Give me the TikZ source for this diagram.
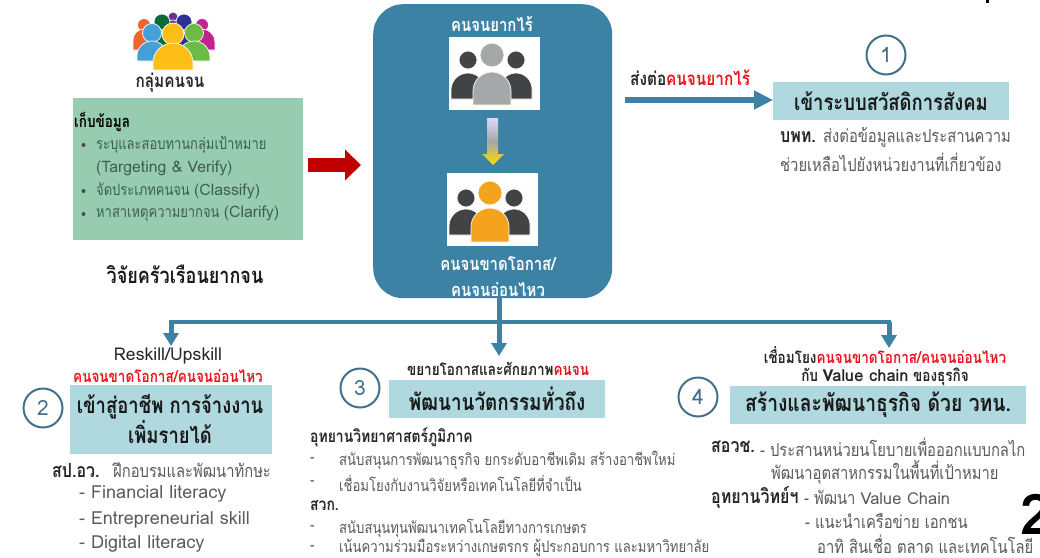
\documentclass[tikz,border=0pt]{standalone}
\usepackage{fontspec}
\setmainfont[Script=Thai,FakeStretch=0.82]{Loma}
\newfontfamily\latinfont{Loma}
\newcommand{\lat}[1]{{\latinfont #1}}
\usepackage{tikz}
\usetikzlibrary{calc,arrows.meta}
\definecolor{tealdeep}{HTML}{3B82A4}
\definecolor{tealpale}{HTML}{AFD8DF}
\definecolor{greenpale}{HTML}{97CCB0}
\definecolor{greentext}{HTML}{3D5F52}
\definecolor{ringblue}{HTML}{446F88}
\definecolor{bodygray}{HTML}{5A5A5A}
\definecolor{darkperson}{HTML}{414345}
\definecolor{midperson}{HTML}{A5A7A8}
\definecolor{orangeperson}{HTML}{F4A31F}
\definecolor{redbold}{HTML}{E8141C}
\definecolor{arrowred}{HTML}{C00000}
\definecolor{grpyellow}{HTML}{FDBE16}
\definecolor{grpblue}{HTML}{45A0D8}
\definecolor{grpgreen}{HTML}{6CBB45}
\definecolor{grporange}{HTML}{F0652F}
\definecolor{grpmagenta}{HTML}{C2248F}
\definecolor{grpnavy}{HTML}{2E3192}
\definecolor{grpforest}{HTML}{0B6B3A}
\definecolor{grppurple}{HTML}{6A2F8F}
% head x, head y, head radius, body top, body half width, body bottom, colour
\newcommand{\personicon}[7]{%
  \filldraw[fill=#7,draw=white,line width=.7pt] (#1,#2) circle [radius=#3];
  \filldraw[fill=#7,draw=white,line width=.7pt] (#1-#5,#6) -- (#1-#5,#4+#5)
    arc [start angle=180,end angle=360,radius=#5] -- (#1+#5,#6) -- cycle;
}
\tikzset{
  bodytext/.style={inner sep=0,anchor=west,text=bodygray,font=\fontsize{18}{21}\selectfont},
  smalltext/.style={inner sep=0,anchor=west,text=bodygray,font=\fontsize{16}{19}\selectfont},
  datatext/.style={inner sep=0,anchor=west,text=greentext,font=\fontsize{15.8}{19}\selectfont},
  boldtext/.style={inner sep=0,anchor=west,text=black!85,font=\fontsize{19.5}{23}\selectfont\bfseries},
  boldsmall/.style={inner sep=0,anchor=west,text=black!85,font=\fontsize{17}{20}\selectfont\bfseries},
  headtext/.style={inner sep=0,text=black!85,font=\fontsize{16.5}{19}\selectfont\bfseries},
  bigtext/.style={inner sep=0,text=black!90,align=center,font=\fontsize{22.5}{30}\selectfont\bfseries},
  whitetext/.style={inner sep=0,text=white,font=\fontsize{18.2}{21}\selectfont\bfseries},
  palebox/.style={fill=tealpale,inner sep=0,anchor=north west},
  ringnode/.style={circle,draw=ringblue,line width=2pt,minimum size=39pt,inner sep=0,
    text=ringblue,font=\latinfont\fontsize{21}{24}\selectfont},
  imagebox/.style={fill=white,inner sep=0,anchor=north west,minimum width=91pt,minimum height=73pt},
  flow/.style={draw=tealdeep,line width=6pt,-{Triangle[length=19pt,width=18pt]}},
  flowdown/.style={draw=tealdeep,line width=5pt,-{Triangle[length=13pt,width=15pt]}},
  trunk/.style={draw=tealdeep,line width=4.5pt,line cap=rect},
}
\begin{document}
\begin{tikzpicture}[x=1pt,y=-1pt]
  \useasboundingbox (0,0) rectangle (1040,557);
  \clip (0,0) rectangle (1040,557);
  %
  % Group icon
  \personicon{144}{25}{6.5}{29}{11}{50}{grporange}
  \personicon{202}{25}{6.5}{29}{13}{50}{grpmagenta}
  \personicon{173}{17}{5}{20}{8}{40}{grppurple}
  \personicon{162}{22}{8}{30}{12}{50}{grpforest}
  \personicon{184}{22}{8}{30}{12}{50}{grpnavy}
  \personicon{152}{33}{9.5}{41}{15}{61}{grpblue}
  \personicon{194}{33}{9.5}{41}{16}{61}{grpgreen}
  \personicon{173}{34}{11}{43}{20}{70}{grpyellow}
  \node[headtext,font=\fontsize{18.7}{22}\selectfont\bfseries] (groupname) at (170,83) {กลุ่มคนจน};
  %
  % Data box
  \node[fill=greenpale,inner sep=0,anchor=north west,minimum width=230pt,minimum height=142pt] (databox) at (73,98) {};
  \node[boldsmall,text=black,font=\fontsize{16.5}{20}\selectfont\bfseries] (datahead) at (74,122) {เก็บข้อมูล};
  \node[datatext] (dataone) at (96,145) {ระบุและสอบทานกลุ่มเป้าหมาย};
  \node[datatext] (datatwo) at (96,168) {\lat{(Targeting \& Verify)}};
  \node[datatext] (datathree) at (96,191) {จัดประเภทคนจน \lat{(Classify)}};
  \node[datatext] (datafour) at (96,214) {หาสาเหตุความยากจน \lat{(Clarify)}};
  \foreach \y in {145,191,214}
    \fill[black!70] (83.5,\y) circle [radius=2];
  \node[bigtext,font=\fontsize{22}{26}\selectfont\bfseries] (research) at (185,274) {วิจัยครัวเรือนยากจน};
  %
  % Poor people panel
  \node[fill=tealdeep,rounded corners=30pt,inner sep=0,anchor=north west,minimum width=239pt,minimum height=294pt] (bigbox) at (373,4) {};
  \node[whitetext] (poorlabel) at (492,24) {คนจนยากไร้};
  \node[imagebox] (topimg) at (449,37) {};
  \node[imagebox] (lowimg) at (447,173) {};
  \personicon{468}{60}{9}{73}{17}{99}{darkperson}
  \personicon{516}{60}{9}{73}{16}{99}{darkperson}
  \personicon{492}{55}{12}{72}{19}{105}{midperson}
  \personicon{466}{198}{9}{209}{17}{235}{darkperson}
  \personicon{514}{198}{9}{209}{16}{235}{darkperson}
  \personicon{490}{193}{12}{208}{19}{242}{orangeperson}
  \node[whitetext] (lacklabel) at (498,264) {คนจนขาดโอกาส/};
  \node[whitetext] (weaklabel) at (498,289) {คนจนอ่อนไหว};
  %
  % Arrow between the two images
  \shade[top color=white!85!blue,bottom color=yellow!75!orange,middle color=gray!70]
    (487,118) -- (498,118) -- (498,154) -- (504,154) -- (493,165) -- (482,154) -- (487,154) -- cycle;
  %
  % Red arrow
  \coordinate (redstart) at (308,165);
  \draw[draw=arrowred,line width=14pt,-{Triangle[length=16pt,width=30pt]},shorten >=12pt]
    (redstart) -- (redstart -| bigbox.west);
  %
  % Step 1
  \node[headtext,anchor=west,font=\fontsize{18.7}{22}\selectfont\bfseries] (sendlabel) at (630,78) {ส่งต่อ\textcolor{redbold}{คนจนยากไร้}};
  \node[palebox,minimum width=236pt,minimum height=38pt] (stepone) at (773,82) {};
  \node[bigtext] (steponetext) at (891,101) {เข้าระบบสวัสดิการสังคม};
  \node[ringnode] (ringone) at (886,55) {1};
  \coordinate (sendstart) at (625,100);
  \draw[flow] (sendstart) -- (sendstart -| stepone.west);
  \node[boldtext] (pmuname) at (780,137) {บพท.};
  \node[bodytext] (pmuone) at (823,137) {ส่งต่อข้อมูลและประสานความ};
  \node[bodytext] (pmutwo) at (780,162) {ช่วยเหลือไปยังหน่วยงานที่เกี่ยวข้อง};
  %
  % Step 2
  \node[inner sep=0,text=black!85,font=\latinfont\fontsize{17.6}{20}\selectfont] (reskill) at (168,356) {Reskill/Upskill};
  \node[headtext,text=redbold] (steptwohead) at (168,376) {คนจนขาดโอกาส/คนจนอ่อนไหว};
  \node[palebox,minimum width=202pt,minimum height=69pt] (steptwo) at (70,385) {};
  \node[bigtext] (steptwotext) at (170,419) {เข้าสู่อาชีพ การจ้างงาน\\เพิ่มรายได้};
  \node[ringnode] (ringtwo) at (43,408) {2};
  \node[boldtext] (nxponame) at (52,470) {สป.อว.};
  \node[bodytext] (nxpotext) at (113,470) {ฝึกอบรมและพัฒนาทักษะ};
  \node[bodytext] (skillone) at (79,494) {\lat{- Financial literacy}};
  \node[bodytext] (skilltwo) at (79,520) {\lat{- Entrepreneurial skill}};
  \node[bodytext] (skillthree) at (79,544) {\lat{- Digital literacy}};
  %
  % Step 3
  \node[headtext] (stepthreehead) at (498,369) {ขยายโอกาสและศักยภาพ\textcolor{redbold}{คนจน}};
  \node[palebox,minimum width=216pt,minimum height=38pt] (stepthree) at (389,380) {};
  \node[bigtext,font=\fontsize{23}{27}\selectfont\bfseries] (stepthreetext) at (497,399) {พัฒนานวัตกรรมทั่วถึง};
  \node[ringnode] (ringthree) at (360,388) {3};
  \node[boldsmall] (parkname) at (310,437) {อุทยานวิทยาศาสตร์ภูมิภาค};
  \node[smalltext] (parkdashone) at (310,460) {-};
  \node[smalltext] (parkone) at (339,460) {สนับสนุนการพัฒนาธุรกิจ ยกระดับอาชีพเดิม สร้างอาชีพใหม่};
  \node[smalltext] (parkdashtwo) at (310,483) {-};
  \node[smalltext] (parktwo) at (339,483) {เชื่อมโยงกับงานวิจัยหรือเทคโนโลยีที่จำเป็น};
  \node[boldsmall] (arcname) at (310,506) {สวก.};
  \node[smalltext] (arcdashone) at (310,528) {-};
  \node[smalltext] (arcone) at (339,528) {สนับสนุนทุนพัฒนาเทคโนโลยีทางการเกษตร};
  \node[smalltext] (arcdashtwo) at (310,548) {-};
  \node[smalltext] (arctwo) at (339,548) {เน้นความร่วมมือระหว่างเกษตรกร ผู้ประกอบการ และมหาวิทยาลัย};
  %
  % Step 4
  \node[headtext] (stepfourhead) at (885,355) {เชื่อมโยง\textcolor{redbold}{คนจนขาดโอกาส/คนจนอ่อนไหว}};
  \node[headtext] (stepfoursub) at (885,377) {กับ \lat{Value chain} ของธุรกิจ};
  \node[palebox,minimum width=296pt,minimum height=38pt] (stepfour) at (730,386) {};
  \node[bigtext,font=\fontsize{23.5}{27}\selectfont\bfseries] (stepfourtext) at (878,405) {สร้างและพัฒนาธุรกิจ ด้วย วทน.};
  \node[ringnode] (ringfour) at (698,397) {4};
  \node[boldtext] (nsticname) at (711,447) {สอวช.};
  \node[bodytext] (policyone) at (760,447) {- ประสานหน่วยนโยบายเพื่อออกแบบกลไก};
  \node[bodytext] (policytwo) at (771,472) {พัฒนาอุตสาหกรรมในพื้นที่เป้าหมาย};
  \node[boldtext] (sciname) at (711,497) {อุทยานวิทย์ฯ};
  \node[bodytext] (scione) at (804,497) {- พัฒนา \lat{\fontsize{16.5}{19}\selectfont Value Chain}};
  \node[bodytext] (scitwo) at (805,521) {- แนะนำเครือข่าย เอกชน};
  \node[bodytext] (scithree) at (817,544) {อาทิ สินเชื่อ ตลาด และเทคโนโลยี};
  %
  % Connectors from the panel
  \coordinate (headtwo) at (171,346);
  \coordinate (headthree) at (499,356);
  \coordinate (headfour) at (889,348);
  \coordinate (trunkleft) at (171,322);
  \coordinate (trunkright) at (889,322);
  \draw[trunk] (trunkleft) -- (trunkright);
  \draw[flowdown] (bigbox.south -| headthree) -- (headthree);
  \draw[flowdown] (trunkleft) -- (headtwo);
  \draw[flowdown] (trunkright) -- (headfour);
  %
  % Cut off marks at the page edge
  \node[inner sep=0,anchor=west,text=black,font=\latinfont\fontsize{56}{60}\selectfont\bfseries] (pagenumber) at (1020,514) {2};
  \fill[black] (985.5,0) rectangle (989,3);
  %
\end{tikzpicture}
\end{document}
